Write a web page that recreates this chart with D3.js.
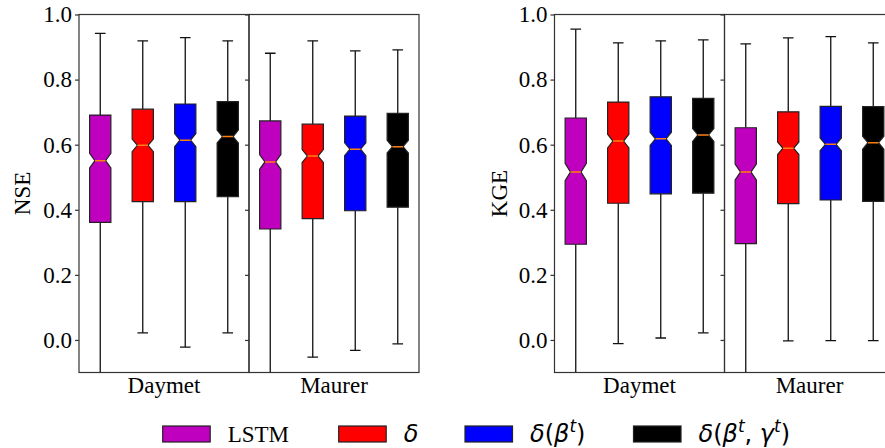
<!DOCTYPE html>
<html>
<head>
<meta charset="utf-8">
<script src="https://cdn.jsdelivr.net/npm/d3@7"></script>
<style>
  body { margin: 0; background: #fff; }
  svg { display: block; }
  .tick text { font-family: "Liberation Serif", "Times New Roman", serif; font-size: 23px; fill: #000; }
  .tick line { stroke: #333; stroke-width: 1.2; }
</style>
</head>
<body>
<div id="chart"></div>
<script>
const forcings = ["Daymet", "Maurer"]
const models = ["LSTM", "δ", "δ(βt)", "δ(βt, γt)"]
const modelColors = ["#bf00bf", "#ff0000", "#0000ff", "#000000"]
const yTicks = [0.0, 0.2, 0.4, 0.6, 0.8, 1.0]
const nBasins = 531

// one row per model: [lower whisker, q1, median, q3, upper whisker]
const nseDaymet = [[-0.45, 0.361, 0.551, 0.691, 0.942], [0.022, 0.425, 0.598, 0.709, 0.919], [-0.022, 0.425, 0.614, 0.725, 0.929], [0.022, 0.440, 0.625, 0.732, 0.919]]
const nseMaurer = [[-0.45, 0.341, 0.547, 0.673, 0.881], [-0.053, 0.373, 0.565, 0.663, 0.919], [-0.032, 0.397, 0.586, 0.688, 0.888], [-0.012, 0.408, 0.594, 0.696, 0.891]]
const kgeDaymet = [[-0.45, 0.294, 0.516, 0.682, 0.955], [-0.011, 0.420, 0.611, 0.731, 0.913], [0.006, 0.449, 0.618, 0.747, 0.919], [0.022, 0.451, 0.630, 0.742, 0.922]]
const kgeMaurer = [[-0.45, 0.296, 0.516, 0.652, 0.910], [-0.003, 0.419, 0.589, 0.701, 0.928], [-0.002, 0.430, 0.601, 0.718, 0.932], [-0.002, 0.426, 0.606, 0.717, 0.913]]

const panels = [
    {label: "NSE", x0: 79, labelX: 30, stats: [nseDaymet, nseMaurer]},
    {label: "KGE", x0: 554.5, labelX: 507, stats: [kgeDaymet, kgeMaurer]}
]

const width = 885, height = 448
const plotW = 340
const plotTop = 14.5, plotBottom = 372.5
const serif = '"Liberation Serif", "Times New Roman", serif'
const mathFont = '"DejaVu Sans", sans-serif'
const frameColor = "#333"

const svg = d3.select("#chart").append("svg")
    .attr("width", width)
    .attr("height", height)

const y = d3.scaleLinear().domain([-0.1, 1.0]).range([plotBottom, plotTop])

panels.forEach((p, pi) => {
    const gx = d3.scaleBand().domain(forcings).range([p.x0, p.x0 + plotW])
    const mx = d3.scaleBand().domain(models).range([0, gx.bandwidth()])
    const boxW = mx.bandwidth() * 0.5

    forcings.forEach((f, fi) => {
        const ax0 = gx(f)
        const clipId = `clip-${pi}-${fi}`
        svg.append("clipPath").attr("id", clipId)
            .append("rect")
            .attr("x", ax0).attr("y", plotTop)
            .attr("width", gx.bandwidth()).attr("height", plotBottom - plotTop)

        const g = svg.append("g").attr("clip-path", `url(#${clipId})`)
        const stats = p.stats[fi]

        models.forEach((m, mi) => {
            const [lo, q1, med, q3, hi] = stats[mi]
            const c = ax0 + mx(m) + mx.bandwidth() / 2
            const notch = 1.57 * (q3 - q1) / Math.sqrt(nBasins)
            const l = c - boxW / 2, r = c + boxW / 2
            const il = c - boxW / 4, ir = c + boxW / 4

            // whiskers and caps
            g.append("line").attr("x1", c).attr("x2", c).attr("y1", y(q3)).attr("y2", y(hi))
                .attr("stroke", "#111").attr("stroke-width", 1.3)
            g.append("line").attr("x1", c).attr("x2", c).attr("y1", y(q1)).attr("y2", y(lo))
                .attr("stroke", "#111").attr("stroke-width", 1.3)
            g.append("line").attr("x1", il).attr("x2", ir).attr("y1", y(hi)).attr("y2", y(hi))
                .attr("stroke", "#111").attr("stroke-width", 1.3)
            g.append("line").attr("x1", il).attr("x2", ir).attr("y1", y(lo)).attr("y2", y(lo))
                .attr("stroke", "#111").attr("stroke-width", 1.3)

            // notched box
            const pts = [
                [l, q1], [r, q1], [r, med - notch], [ir, med], [r, med + notch], [r, q3],
                [l, q3], [l, med + notch], [il, med], [l, med - notch]
            ]
            g.append("path")
                .attr("d", d3.line().x(d => d[0]).y(d => y(d[1]))(pts) + "Z")
                .attr("fill", modelColors[mi])
                .attr("stroke", "#222")
                .attr("stroke-width", 1.2)

            g.append("line").attr("x1", il).attr("x2", ir).attr("y1", y(med)).attr("y2", y(med))
                .attr("stroke", "#ff7f0e").attr("stroke-width", 1.5)
        })

        // frame of this sub-axes
        svg.append("rect")
            .attr("x", ax0).attr("y", plotTop)
            .attr("width", gx.bandwidth()).attr("height", plotBottom - plotTop)
            .attr("fill", "none").attr("stroke", frameColor).attr("stroke-width", 1.2)

        const axis = d3.axisLeft(y).tickValues(yTicks).tickSize(4).tickPadding(3).tickSizeOuter(0)
            .tickFormat(fi === 0 ? d3.format(".1f") : "")
        const ag = svg.append("g").attr("transform", `translate(${ax0},0)`).call(axis)
        ag.select(".domain").remove()
        if (fi > 0) ag.selectAll(".tick text").remove()

        svg.append("text")
            .attr("x", ax0 + gx.bandwidth() / 2).attr("y", 393)
            .attr("text-anchor", "middle")
            .style("font-family", serif).style("font-size", "23px")
            .text(f)
    })

    svg.append("text")
        .attr("transform", `translate(${p.labelX},${(plotTop + plotBottom) / 2}) rotate(-90)`)
        .attr("text-anchor", "middle")
        .style("font-family", serif).style("font-size", "23px")
        .text(p.label)
})

// legend
const legendX = [162.7, 338.7, 465, 633.5]
const legendY = 434
const leg = svg.append("g")
models.forEach((m, i) => {
    leg.append("rect")
        .attr("x", legendX[i]).attr("y", legendY - 8)
        .attr("width", 47.5).attr("height", 16)
        .attr("fill", modelColors[i]).attr("stroke", "#222").attr("stroke-width", 1.2)

    const t = leg.append("text")
        .attr("x", legendX[i] + 65).attr("y", legendY + 8)
        .style("font-size", "24px")
    if (i === 0) {
        t.style("font-family", serif).style("font-size", "23px").text(m)
        return
    }
    // simple mathtext: greek letters italic, t as superscript
    t.style("font-family", mathFont)
    let raised = false
    for (const ch of m) {
        const span = t.append("tspan").text(ch === " " ? "\u00a0" : ch)
        if (ch === "t") {
            span.attr("dy", -10).style("font-size", "17px").style("font-style", "italic")
            raised = true
            continue
        }
        if (raised) { span.attr("dy", 10); raised = false }
        if ("δβγ".includes(ch)) span.style("font-style", "italic")
    }
})
</script>
</body>
</html>
